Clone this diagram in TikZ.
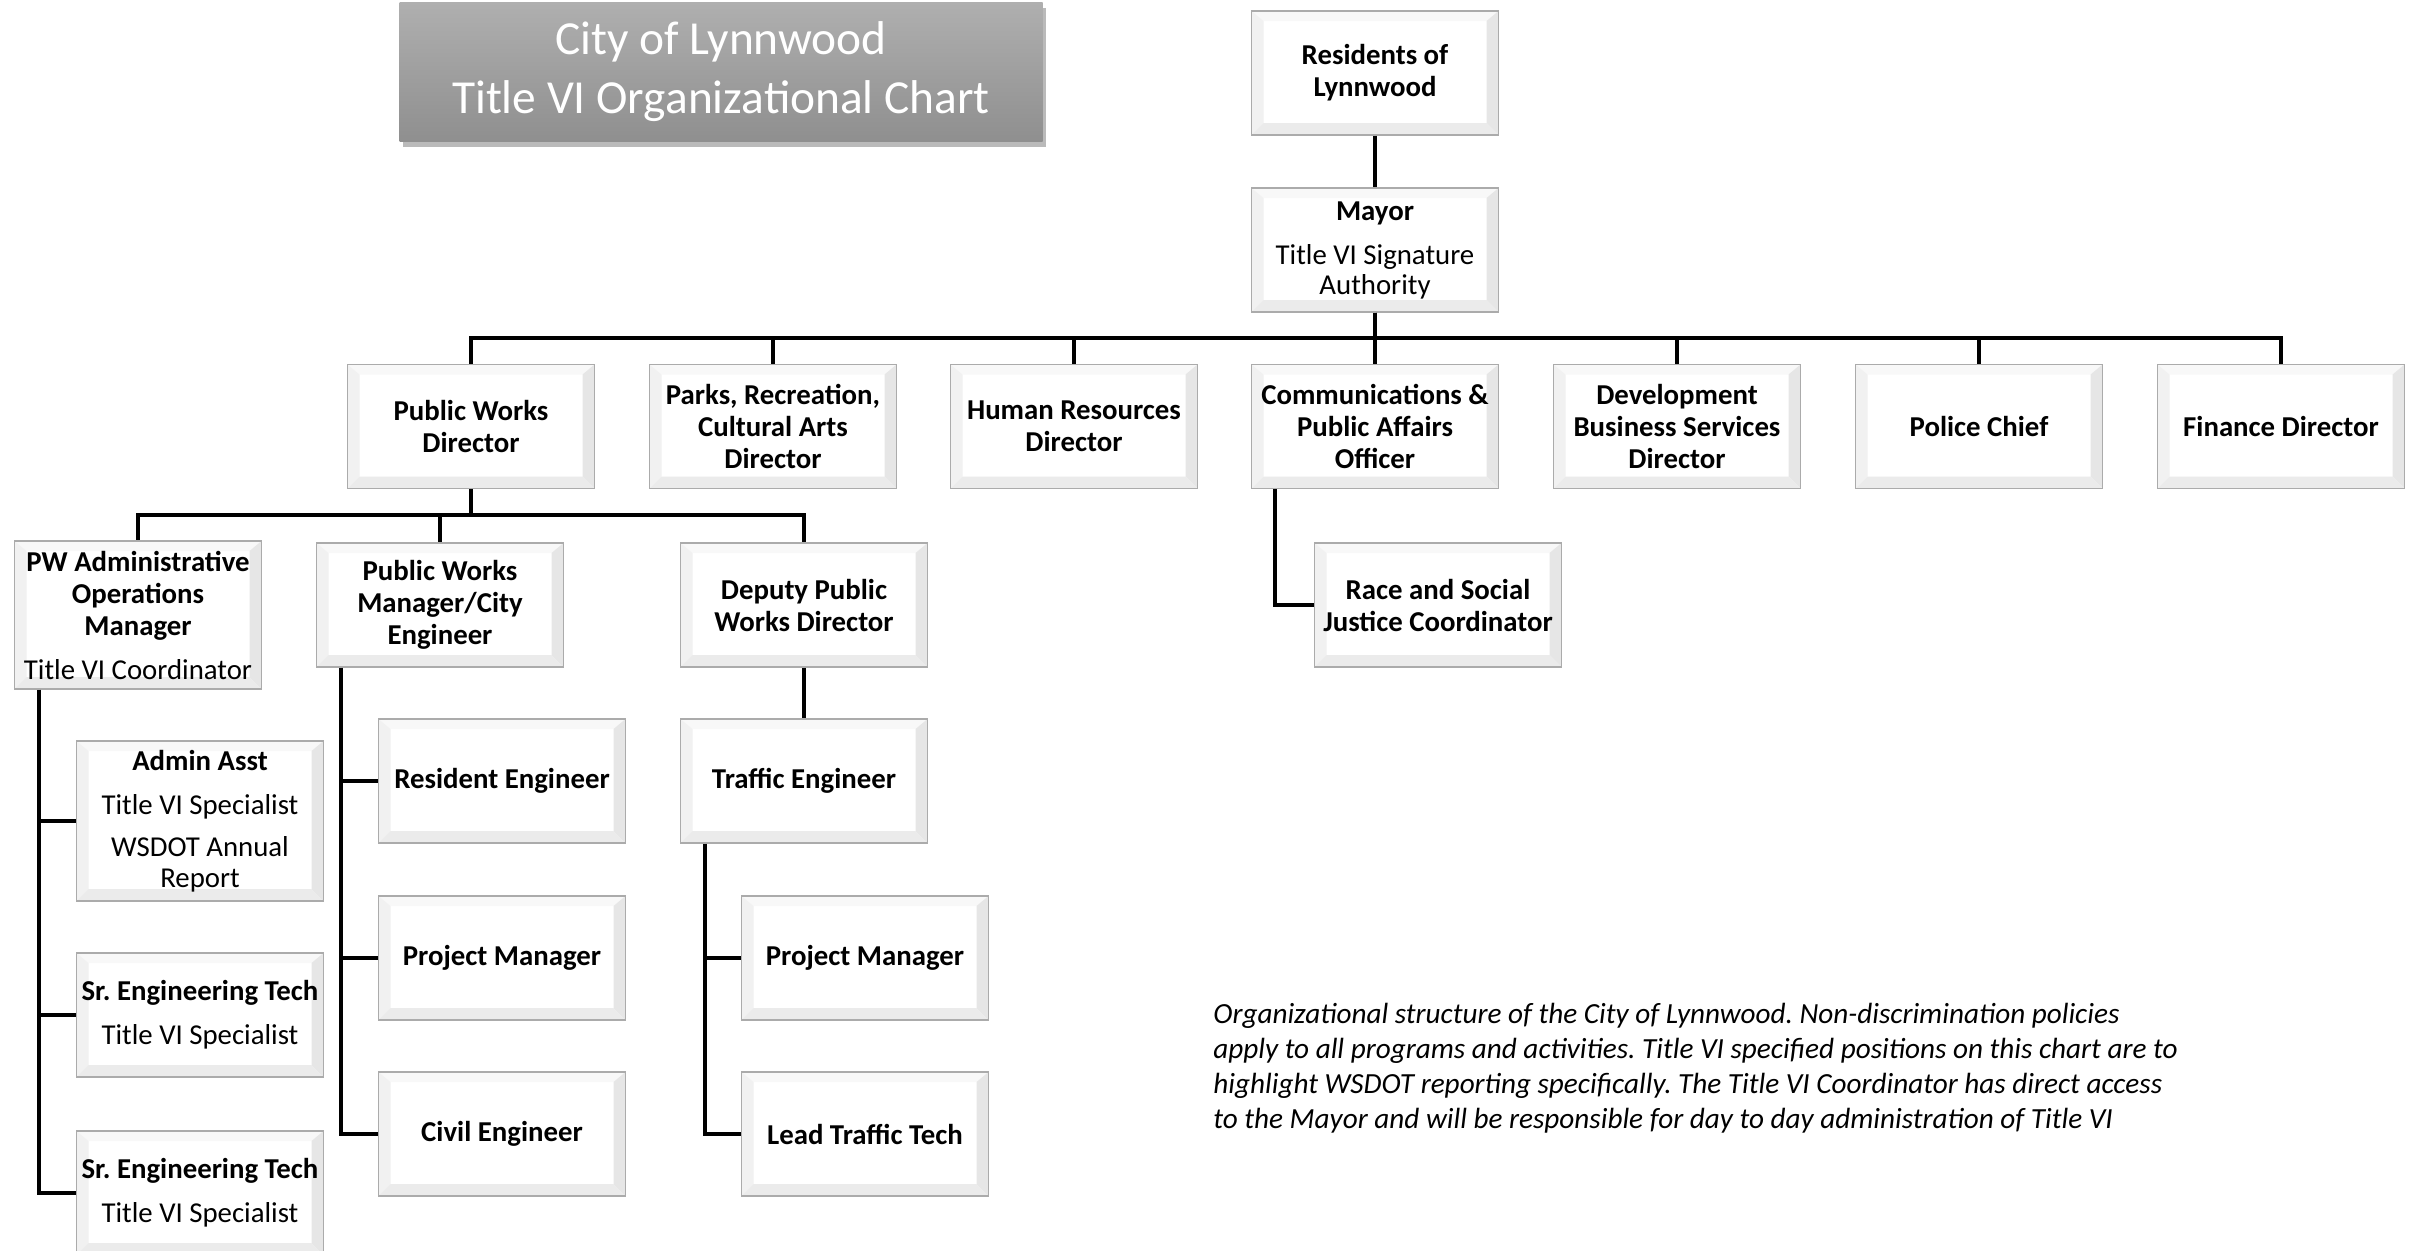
\documentclass[tikz,border=0pt]{standalone}
\usepackage{fontspec}
\setmainfont{Carlito}
\frenchspacing
\usetikzlibrary{shadows}
\definecolor{bordergray}{HTML}{ABABAB}
\definecolor{bevT}{HTML}{F8F8F8}
\definecolor{bevL}{HTML}{F1F1F1}
\definecolor{bevR}{HTML}{E6E6E6}
\definecolor{bevB}{HTML}{EBEBEB}
\definecolor{titletop}{HTML}{AFAFAF}
\definecolor{titlebot}{HTML}{8F8F8F}
\tikzset{
  bevel/.style={path picture={
    \path (path picture bounding box.north west) coordinate (pNW)
          (path picture bounding box.north east) coordinate (pNE)
          (path picture bounding box.south west) coordinate (pSW)
          (path picture bounding box.south east) coordinate (pSE);
    \path ([shift={(6pt,-5pt)}]pNW) coordinate (qNW)
          ([shift={(-6pt,-5pt)}]pNE) coordinate (qNE)
          ([shift={(6pt,6pt)}]pSW) coordinate (qSW)
          ([shift={(-6pt,6pt)}]pSE) coordinate (qSE);
    \fill[bevT] (pNW) -- (pNE) -- (qNE) -- (qNW) -- cycle;
    \fill[bevL] (pNW) -- (qNW) -- (qSW) -- (pSW) -- cycle;
    \fill[bevR] (pNE) -- (pSE) -- (qSE) -- (qNE) -- cycle;
    \fill[bevB] (pSW) -- (qSW) -- (qSE) -- (pSE) -- cycle;
  }},
  orgbox/.style={bevel, draw=bordergray, line width=0.75pt, fill=white,
    minimum width=123.5pt, minimum height=62pt, inner sep=0pt, align=center,
    font=\fontsize{14.4}{16}\selectfont\bfseries},
  conn/.style={line width=2pt, black},
  titlebox/.style={top color=titletop, bottom color=titlebot, draw=none,
    minimum width=321.5pt, minimum height=69.5pt, inner sep=0pt, align=center,
    text=white, font=\fontsize{23.7}{29.5}\selectfont,
    drop shadow={shadow xshift=1.5pt, shadow yshift=-2.5pt, opacity=0.45, fill=black!60}},
  notetext/.style={align=left, inner sep=0pt, anchor=north west,
    font=\fontsize{14.6}{17.4}\selectfont\itshape}
}
\begin{document}
\begin{tikzpicture}[x=0.5pt, y=-0.5pt]
\useasboundingbox (0,0) rectangle (2423,1250);
\fill[white] (0,0) rectangle (2423,1250);

% title
\node[titlebox] (title) at (721,72) {City of Lynnwood\\Title VI Organizational Chart};

% top
\node[orgbox] (res) at (1375,73) {Residents of\\Lynnwood};
\node[orgbox] (mayor) at (1375,250) {Mayor\\[6pt]\mdseries Title VI Signature\\[-1pt]\mdseries Authority};

% level 2
\node[orgbox] (pwd) at (471,426.5) {Public Works\\Director};
\node[orgbox] (parks) at (773,426.5) {Parks, Recreation,\\Cultural Arts\\Director};
\node[orgbox] (hr) at (1074,426.5) {Human Resources\\Director};
\node[orgbox] (comm) at (1375,426.5) {Communications \&\\Public Affairs\\Officer};
\node[orgbox] (dev) at (1677,426.5) {Development\\Business Services\\Director};
\node[orgbox] (police) at (1979,426.5) {Police Chief};
\node[orgbox] (fin) at (2281,426.5) {Finance Director};

% level 3
\node[orgbox, minimum height=74pt] (pwadmin) at (138,615) {PW Administrative\\Operations\\Manager\\[6pt]\mdseries Title VI Coordinator};
\node[orgbox] (pwmgr) at (440,605) {Public Works\\Manager/City\\Engineer};
\node[orgbox] (deputy) at (804,605) {Deputy Public\\Works Director};
\node[orgbox] (race) at (1438,605) {Race and Social\\Justice Coordinator};

% PW admin branch
\node[orgbox, minimum height=80pt] (admin) at (200,821) {Admin Asst\\[6pt]\mdseries Title VI Specialist\\[5pt]\mdseries WSDOT Annual\\[-0.5pt]\mdseries Report};
\node[orgbox] (sr1) at (200,1015) {Sr. Engineering Tech\\[6pt]\mdseries Title VI Specialist};
\node[orgbox] (sr2) at (200,1193) {Sr. Engineering Tech\\[6pt]\mdseries Title VI Specialist};

% PW manager branch
\node[orgbox] (reseng) at (502,781) {Resident Engineer};
\node[orgbox] (pm1) at (502,958) {Project Manager};
\node[orgbox] (civil) at (502,1134) {Civil Engineer};

% deputy branch
\node[orgbox] (traffic) at (804,781) {Traffic Engineer};
\node[orgbox] (pm2) at (865,958) {Project Manager};
\node[orgbox] (lead) at (865,1134) {Lead Traffic Tech};

% note
\node[notetext] (note) at (1213,1003) {Organizational structure of the City of Lynnwood. Non-discrimination policies\\apply to all programs and activities. Title VI specified positions on this chart are to\\highlight WSDOT reporting specifically. The Title VI Coordinator has direct access\\to the Mayor and will be responsible for day to day administration of Title VI};

% connectors
\coordinate (busA) at (0,338);
\coordinate (busB) at (0,515);
\draw[conn] (res) -- (mayor);
\foreach \n in {pwd,parks,hr,comm,dev,police,fin}
  \draw[conn] (mayor.south) -- (mayor.south |- busA) -| (\n.north);
\foreach \n in {pwadmin,pwmgr,deputy}
  \draw[conn] (pwd.south) -- (pwd.south |- busB) -| (\n.north);
\foreach \n in {admin,sr1,sr2}
  \draw[conn] ([xshift=12.5pt]pwadmin.south west) |- (\n.west);
\foreach \n in {reseng,pm1,civil}
  \draw[conn] ([xshift=12.5pt]pwmgr.south west) |- (\n.west);
\draw[conn] (deputy) -- (traffic);
\foreach \n in {pm2,lead}
  \draw[conn] ([xshift=12.5pt]traffic.south west) |- (\n.west);
\draw[conn] ([xshift=12pt]comm.south west) |- (race.west);
\end{tikzpicture}
\end{document}
